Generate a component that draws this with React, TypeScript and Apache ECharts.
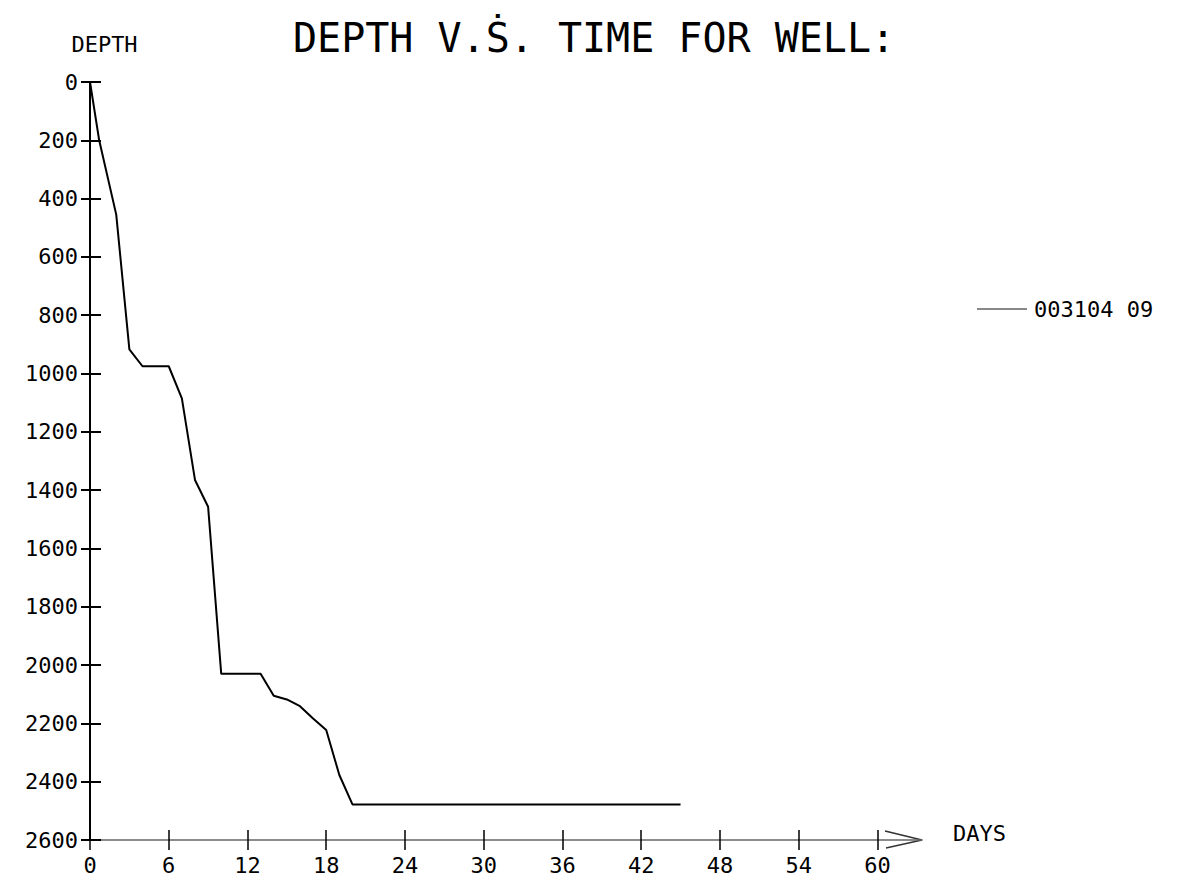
import React, { useEffect, useRef } from "react";
import * as echarts from "echarts";

const days = [0, 0.7, 2, 3, 4, 6, 7, 8, 9, 10, 13, 14, 15, 16, 17, 18, 19, 20, 45];
const depths = [0, 200, 455, 917, 975, 975, 1085, 1365, 1457, 2030, 2030, 2105, 2118, 2141, 2183, 2223, 2377, 2478, 2478];
const dayTicks = [0, 6, 12, 18, 24, 30, 36, 42, 48, 54, 60];
const seriesName = "003104 09";
const titleText = "DEPTH V.Ṡ. TIME FOR WELL:";
const yName = "DEPTH";
const xName = "DAYS";

const FONT = "DejaVu Sans Mono";
const GRID_LEFT = 90;
const GRID_TOP = 82;
const GRID_RIGHT_X = 922;
const GRID_BOTTOM_Y = 840;

export default function App() {
  const ref = useRef<HTMLDivElement>(null);
  useEffect(() => {
    if (!ref.current) return;
    const chart = echarts.init(ref.current, null, { renderer: "svg" });
    const data = days.map((d, i) => [d, depths[i]]);
    const labelStyle = { fontFamily: FONT, fontSize: 22, color: "#000", formatter: (v: number) => String(v) };
    const option: any = {
      animation: false,
      backgroundColor: "#fff",
      title: {
        text: titleText,
        left: 288,
        top: 13,
        textStyle: { fontFamily: FONT, fontSize: 40, fontWeight: "normal", color: "#000" },
      },
      legend: {
        left: 977,
        top: 298,
        padding: 0,
        itemWidth: 50,
        itemHeight: 2,
        itemGap: 6,
        data: [{ name: seriesName, icon: "rect" }],
        itemStyle: { color: "#888" },
        textStyle: { fontFamily: FONT, fontSize: 22, color: "#000", padding: [0, 0, 0, 2] },
      },
      grid: {
        left: GRID_LEFT,
        top: GRID_TOP,
        width: GRID_RIGHT_X - GRID_LEFT,
        height: GRID_BOTTOM_Y - GRID_TOP,
        containLabel: false,
      },
      xAxis: [
        {
          type: "value",
          position: "bottom",
          min: 0,
          max: 63.4,
          interval: 6,
          name: xName,
          nameLocation: "end",
          nameGap: 31,
          nameTextStyle: { fontFamily: FONT, fontSize: 22, lineHeight: 14, color: "#000", verticalAlign: "bottom" },
          axisLine: { show: true, onZero: false, lineStyle: { color: "#666", width: 1.5 } },
          axisTick: { show: true, inside: false, length: 10, customValues: dayTicks, lineStyle: { color: "#000", width: 1.5 } },
          axisLabel: { ...labelStyle, margin: 14, customValues: dayTicks },
          splitLine: { show: false },
        },
        {
          type: "value",
          position: "bottom",
          min: 0,
          max: 63.4,
          interval: 6,
          axisLine: { show: false, onZero: false },
          axisTick: { show: true, inside: true, length: 10, customValues: dayTicks, lineStyle: { color: "#000", width: 1.5 } },
          axisLabel: { show: false },
          splitLine: { show: false },
        },
      ],
      yAxis: [
        {
          type: "value",
          inverse: true,
          min: 0,
          max: 2600,
          interval: 200,
          name: yName,
          nameLocation: "start",
          nameGap: 27,
          nameTextStyle: { fontFamily: FONT, fontSize: 22, color: "#000", align: "center", padding: [0, 0, 0, 29] },
          axisLine: { show: true, onZero: false, lineStyle: { color: "#000", width: 2 } },
          axisTick: { show: true, inside: false, length: 9, lineStyle: { color: "#000", width: 2 } },
          axisLabel: { ...labelStyle, margin: 12 },
          splitLine: { show: false },
        },
        {
          type: "value",
          inverse: true,
          min: 0,
          max: 2600,
          interval: 200,
          position: "left",
          axisLine: { show: false, onZero: false },
          axisTick: { show: true, inside: true, length: 11, lineStyle: { color: "#000", width: 2 } },
          axisLabel: { show: false },
          splitLine: { show: false },
        },
      ],
      graphic: [
        {
          type: "polyline",
          shape: {
            points: [
              [GRID_RIGHT_X - 37, GRID_BOTTOM_Y - 9],
              [GRID_RIGHT_X, GRID_BOTTOM_Y],
              [GRID_RIGHT_X - 36, GRID_BOTTOM_Y + 8],
            ],
          },
          style: { stroke: "#333", lineWidth: 1.5, fill: null },
        },
      ],
      series: [
        {
          name: seriesName,
          type: "line",
          xAxisIndex: 0,
          yAxisIndex: 0,
          data,
          symbol: "none",
          lineStyle: { color: "#000", width: 2 },
          itemStyle: { color: "#000" },
        },
      ],
    };
    chart.setOption(option);
    return () => chart.dispose();
  }, []);
  return (
    <div
      ref={ref}
      style={{ position: "fixed", left: 0, top: 0, width: 1192, height: 888, background: "#fff" }}
    />
  );
}
